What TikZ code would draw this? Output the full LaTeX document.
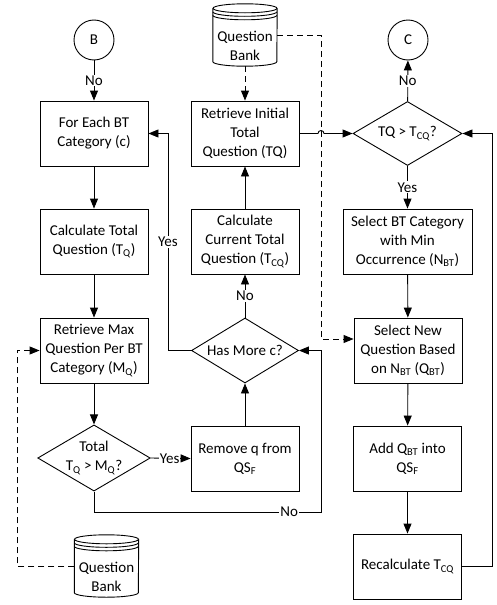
\documentclass[tikz,border=0pt]{standalone}
\usepackage{fontspec}
\setmainfont{Carlito}
\usetikzlibrary{shapes.geometric,arrows.meta,calc}

% Database drum: side walls, top ellipse and two extra rims
\newcommand{\drawdrum}[1]{%
  \draw[plain] ($(#1.north west)+(0,4.5)$) -- ($(#1.south west)+(0,-4.5)$)
    arc[start angle=180,end angle=0,x radius=32,y radius=4.5]
    -- ($(#1.north east)+(0,4.5)$);
  \draw[plain] ($(#1.north)+(0,4.5)$) ellipse[x radius=32,y radius=4.5];
  \draw[plain] ($(#1.north west)+(0,8)$) arc[start angle=180,end angle=0,x radius=32,y radius=4.5];
  \draw[plain] ($(#1.north west)+(0,11.5)$) arc[start angle=180,end angle=0,x radius=32,y radius=4.5];
}

\begin{document}
\begin{tikzpicture}[x=1pt,y=-1pt,
  every node/.style={font=\fontsize{15}{19}\selectfont},
  flow/.style={draw, line width=0.9pt, rectangle, minimum width=108pt,
    minimum height=65pt, inner sep=1pt, align=center},
  decision/.style={draw, line width=0.9pt, diamond, aspect=1.7, inner sep=0pt,
    minimum width=108pt, minimum height=64pt, align=center},
  connector/.style={draw, line width=0.9pt, circle, minimum size=40pt, inner sep=0pt},
  bank/.style={rectangle, minimum width=64pt, minimum height=62pt, inner sep=0pt},
  banktext/.style={inner sep=0pt, align=center},
  plain/.style={line width=0.9pt},
  tip/.style={-{Triangle[length=10pt,width=8pt]}},
  link/.style={line width=0.9pt, tip},
  dashlink/.style={line width=0.9pt, dash pattern=on 6pt off 4pt, tip},
  lbl/.style={fill=white, inner sep=1pt},
]
\useasboundingbox (0,0) rectangle (497,605);

% left column
\node[connector] (B) at (94,40) {B};
\node[flow] (forEach) at (94,133.5) {For Each BT\\Category (c)};
\node[flow] (calcTotal) at (94,241.5) {Calculate Total\\Question (T\textsubscript{Q})};
\node[flow] (retMax) at (94,350.5) {Retrieve Max\\Question Per BT\\Category (M\textsubscript{Q})};
\node[decision] (totalDec) at (94,458) {Total\\T\textsubscript{Q} > M\textsubscript{Q}?};
\node[bank] (bankLow) at (106.5,566) {};
\node[banktext] (bankLowTxt) at (106.5,577) {Question\\Bank};

% middle column
\node[bank] (bankTop) at (245,35) {};
\node[banktext] (bankTopTxt) at (245,46) {Question\\Bank};
\node[flow] (retInit) at (245,133.5) {Retrieve Initial\\Total\\Question (TQ)};
\node[flow] (calcCur) at (245,241.5) {Calculate\\Current Total\\Question (T\textsubscript{CQ})};
\node[decision, minimum width=107pt, minimum height=65pt] (hasMore) at (245,350.5) {Has More c?};
\node[flow] (removeQ) at (245,458.5) {Remove q from\\QS\textsubscript{F}};

% right column
\node[connector] (C) at (408,40) {C};
\node[decision, minimum width=109pt] (tqDec) at (407.5,133.5) {TQ > T\textsubscript{CQ}?};
\node[flow, minimum width=129pt] (selBT) at (407.5,241.5) {Select BT Category\\with Min\\Occurrence (N\textsubscript{BT})};
\node[flow] (selNew) at (408,350.5) {Select New\\Question Based\\on N\textsubscript{BT} (Q\textsubscript{BT})};
\node[flow] (addQ) at (407.5,458.5) {Add Q\textsubscript{BT} into\\QS\textsubscript{F}};
\node[flow] (recalc) at (407.5,566.5) {Recalculate T\textsubscript{CQ}};

\drawdrum{bankTop}
\drawdrum{bankLow}

% helper turning points
\coordinate (yesX) at (168,0);
\coordinate (loopR) at (321,512);
\coordinate (dashX) at (321,339);
\coordinate (rightX) at (492,0);
\coordinate (leftX) at (17,0);
\coordinate (hopL) at (318,133.5);

% left column flow
\draw[link] (B) -- node[lbl]{No} (forEach);
\draw[link] (forEach) -- (calcTotal);
\draw[link] (calcTotal) -- (retMax);
\draw[link] (retMax) -- (totalDec);
\draw[link] (totalDec.east) -- node[lbl, inner sep=0.5pt, xshift=-1pt]{Yes} (removeQ.west);
\draw[link] (totalDec.south) -- (totalDec.south |- loopR)
  -- node[lbl, pos=0.86]{No} (loopR) -- (loopR |- hasMore.east) -- (hasMore.east);
\draw[dashlink] (bankLow.west) -- (leftX |- bankLow.west)
  -- (leftX |- retMax.west) -- (retMax.west);

% middle column flow
\draw[link] (removeQ) -- (hasMore);
\draw[link] (hasMore) -- node[lbl]{No} (calcCur);
\draw[link] (calcCur) -- (retInit);
\draw[link] (hasMore.west) -- (yesX |- hasMore.west)
  -- node[lbl]{Yes} (yesX |- forEach.east) -- (forEach.east);
\draw[dashlink] (bankTop) -- (retInit);
\draw[dashlink] (bankTop.east) -- (dashX |- bankTop.east)
  -- (dashX) -- (dashX -| selNew.west);
\draw[link] (retInit.east) -- (hopL) arc[start angle=180,end angle=360,radius=3] -- (tqDec.west);

% right column flow
\draw[link] (tqDec) -- node[lbl]{No} (C);
\draw[link] (tqDec) -- node[lbl]{Yes} (selBT);
\draw[link] (selBT) -- (selNew);
\draw[link] (selNew) -- (addQ);
\draw[link] (addQ) -- (recalc);
\draw[link] (recalc.east) -- (rightX |- recalc.east) -- (rightX |- tqDec.east) -- (tqDec.east);
\end{tikzpicture}
\end{document}
